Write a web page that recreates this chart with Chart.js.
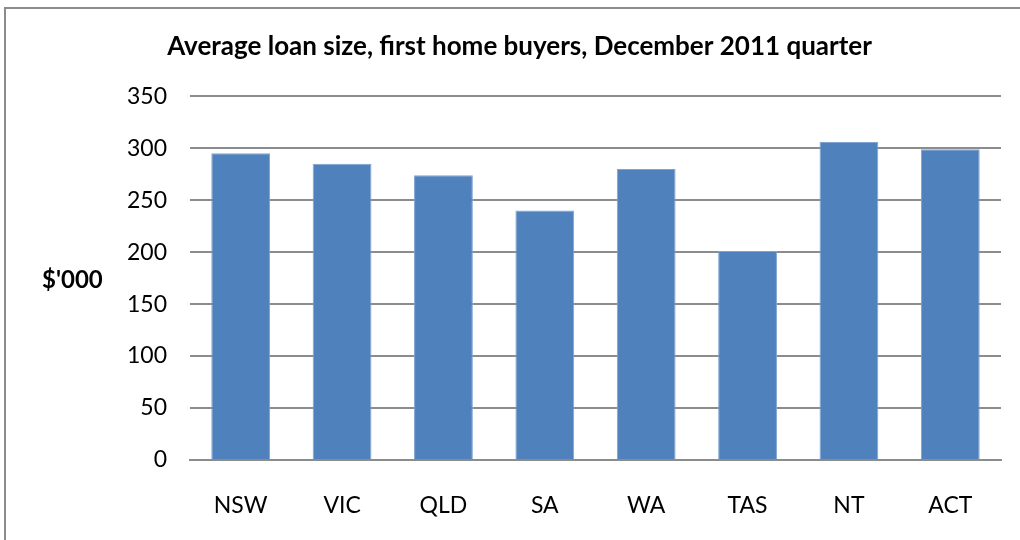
<!DOCTYPE html>
<html>
<head>
<meta charset="utf-8">
<script src="https://cdn.jsdelivr.net/npm/chart.js@4"></script>
<style>
  body { margin: 0; background: #fff; overflow: hidden; }
  .wrap { position: relative; width: 1020px; height: 540px; }
  .frame { position: absolute; left: 4px; top: 7px; width: 1100px; height: 600px; border: 2px solid #8c8c8c; box-sizing: border-box; }
  canvas { position: absolute; left: 0; top: 0; }
</style>
</head>
<body>
<div class="wrap">
  <div class="frame"></div>
  <canvas class="bar-chart" width="1020" height="540"></canvas>
</div>
<script>
var states = ["NSW", "VIC", "QLD", "SA", "WA", "TAS", "NT", "ACT"]
var loanSize = [295, 285, 274, 240, 280, 201, 306, 299]
var yTicks = [0, 50, 100, 150, 200, 250, 300, 350]
var titleText = "Average loan size, first home buyers, December 2011 quarter"
var yLabel = "$'000"

var fontName = "Lato, 'Open Sans', sans-serif"

// horizontal axis name, Excel style
var yLabelPlugin = {
    id: "yLabel",
    afterDraw: function(chart) {
        var ctx = chart.ctx
        var area = chart.chartArea
        ctx.save()
        ctx.font = "bold 24px " + fontName
        ctx.fillStyle = "#000"
        ctx.textAlign = "left"
        ctx.textBaseline = "middle"
        ctx.fillText(yLabel, 42, (area.top + area.bottom) / 2 + 2)
        ctx.restore()
    }
}

var config = {
    type: "bar",
    data: {
        labels: states,
        datasets: [{
            label: "",
            data: loanSize,
            backgroundColor: "#4f81bd",
            borderColor: "#7fa3d1",
            borderWidth: 1,
            barPercentage: 0.58,
            categoryPercentage: 1
        }]
    },
    options: {
        responsive: false,
        animation: false,
        layout: {
            padding: { left: 38, right: 19, top: 8, bottom: 0 }
        },
        scales: {
            y: {
                min: 0,
                max: 350,
                afterBuildTicks: function(scale) {
                    scale.ticks = yTicks.map(function(v) { return { value: v } })
                },
                afterFit: function(scale) { scale.width = 152 },
                border: { display: false },
                grid: { color: "#8c8c8c", lineWidth: 2, drawTicks: false },
                ticks: { color: "#000", padding: 23, font: { family: fontName, size: 23 } }
            },
            x: {
                afterFit: function(scale) { scale.height = 80 },
                border: { display: true, color: "#8c8c8c", width: 2 },
                grid: { display: false, drawTicks: false },
                ticks: { color: "#000", padding: 32, font: { family: fontName, size: 23 } }
            }
        },
        plugins: {
            legend: { display: false },
            tooltip: { enabled: false },
            title: {
                display: true,
                text: titleText,
                color: "#000",
                font: { family: fontName, size: 26, weight: "bold" },
                padding: { top: 23, bottom: 34 }
            }
        }
    },
    plugins: [yLabelPlugin]
}

var chart = new Chart(document.querySelector(".bar-chart"), config)
</script>
</body>
</html>
